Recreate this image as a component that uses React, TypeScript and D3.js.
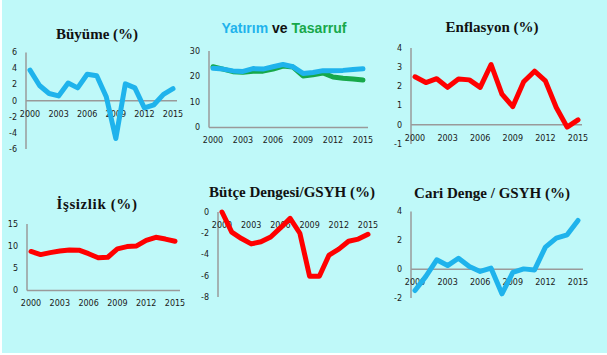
import React from "react";
import * as d3 from "d3";

const years = d3.range(2000, 2016);
const xTickYears = [2000, 2003, 2006, 2009, 2012, 2015];

const growth = [3.8, 1.9, 0.9, 0.6, 2.2, 1.6, 3.3, 3.1, 0.5, -4.7, 2.1, 1.6, -0.9, -0.5, 0.8, 1.5];
const investment = [23.2, 22.9, 22.2, 22.0, 23.1, 22.9, 23.8, 24.7, 23.8, 21.2, 21.6, 22.3, 22.3, 22.4, 22.7, 23.0];
const savings = [23.8, 22.9, 21.9, 21.7, 22.1, 22.1, 22.9, 24.1, 23.7, 20.2, 20.7, 21.4, 19.8, 19.3, 19.0, 18.6];
const inflation = [2.5, 2.2, 2.4, 1.95, 2.38, 2.34, 1.95, 3.14, 1.6, 0.95, 2.24, 2.79, 2.29, 0.9, -0.12, 0.26];
const unemployment = [8.8, 8.1, 8.55, 8.9, 9.15, 9.1, 8.3, 7.4, 7.5, 9.4, 9.9, 10.05, 11.3, 12.0, 11.6, 11.1];
const budget = [0.0, -1.9, -2.5, -3.0, -2.8, -2.35, -1.5, -0.6, -2.0, -6.05, -6.05, -4.05, -3.5, -2.75, -2.55, -2.1];
const current = [-1.48, -0.5, 0.65, 0.25, 0.76, 0.18, -0.16, 0.07, -1.71, -0.23, 0.02, -0.05, 1.53, 2.15, 2.38, 3.38];

const BLUE = "#1fb3ec";
const RED = "#ff0000";
const GREEN = "#17a84a";
const AXIS = "#9a9a9a";
const TICK_FONT = "'DejaVu Sans', Verdana, sans-serif";

type Series = { values: number[]; color: string };
type PanelProps = {
  axisX: number;
  dataX0: number;
  dataX1: number;
  axisXEnd: number;
  yDomain: [number, number];
  yRange: [number, number];
  yTicks: number[];
  baseline: number;
  series: Series[];
  showBaseline?: boolean;
};

function Panel(p: PanelProps) {
  const x = d3.scaleLinear().domain([2000, 2015]).range([p.dataX0, p.dataX1]);
  const y = d3.scaleLinear().domain(p.yDomain).range(p.yRange);
  const line = (vals: number[]) =>
    d3.line<number>().x((_, i) => x(years[i])).y((v) => y(v))(vals) || "";
  const baseY = y(p.baseline);
  return (
    <g>
      <line x1={p.axisX} x2={p.axisX} y1={y(p.yDomain[1])} y2={y(p.yDomain[0])} stroke={AXIS} strokeWidth={1.5} />
      {p.showBaseline !== false && (
        <line x1={p.axisX} x2={p.axisXEnd} y1={baseY} y2={baseY} stroke={AXIS} strokeWidth={1.5} />
      )}
      {p.yTicks.map((t) => (
        <text key={t} x={p.axisX - 9} y={y(t)} dy="0.35em" textAnchor="end" fontSize={8} fontFamily={TICK_FONT} fill="#1a1a1a">
          {t}
        </text>
      ))}
      {xTickYears.map((yr) => (
        <text key={yr} x={x(yr)} y={baseY + 13} dy="0.35em" textAnchor="middle" fontSize={8} fontFamily={TICK_FONT} fill="#1a1a1a">
          {yr}
        </text>
      ))}
      {p.series.map((s, i) => (
        <path key={i} d={line(s.values)} fill="none" stroke={s.color} strokeWidth={5} strokeLinejoin="round" strokeLinecap="round" />
      ))}
    </g>
  );
}

const titleStyle = {
  fontFamily: "'Liberation Serif', 'Times New Roman', serif",
  fontWeight: "bold" as const,
  fontSize: 15,
  fill: "#111",
};

export default function App() {
  return (
    <svg width={607} height={355} style={{ position: "absolute", left: 0, top: 0 }}>
      <rect x={0} y={0} width={607} height={355} fill="#ffffff" />
      <rect x={2} y={0} width={605} height={353} fill="#bff9f9" />

      <text x={97} y={38.5} textAnchor="middle" {...titleStyle}>Büyüme (%)</text>
      <text x={284} y={33} textAnchor="middle" fontFamily="'Liberation Sans', Arial, sans-serif" fontWeight="bold" fontSize={14}>
        <tspan fill={BLUE}>Yatırım</tspan>
        <tspan fill="#111"> ve </tspan>
        <tspan fill={GREEN}>Tasarruf</tspan>
      </text>
      <text x={492} y={32} textAnchor="middle" {...titleStyle}>Enflasyon (%)</text>
      <text x={97} y={209} textAnchor="middle" {...titleStyle} letterSpacing={0.6}>İşsizlik  (%)</text>
      <text x={292} y={197} textAnchor="middle" {...titleStyle}>Bütçe Dengesi/GSYH  (%)</text>
      <text x={492} y={198} textAnchor="middle" {...titleStyle}>Cari Denge  / GSYH (%)</text>

      <Panel axisX={26} dataX0={30} dataX1={173} axisXEnd={177} yDomain={[-6, 6]} yRange={[149, 52.5]}
        yTicks={[-6, -4, -2, 0, 2, 4, 6]} baseline={0} series={[{ values: growth, color: BLUE }]} />
      <Panel axisX={209} dataX0={213} dataX1={363} axisXEnd={368} yDomain={[0, 30]} yRange={[127.5, 51]}
        yTicks={[0, 10, 20, 30]} baseline={0}
        series={[{ values: savings, color: GREEN }, { values: investment, color: BLUE }]} />
      <Panel axisX={411} dataX0={415} dataX1={578} axisXEnd={582} yDomain={[-1, 4]} yRange={[144, 48]}
        yTicks={[-1, 0, 1, 2, 3, 4]} baseline={0} series={[{ values: inflation, color: RED }]} />
      <Panel axisX={27} dataX0={31} dataX1={175} axisXEnd={180} yDomain={[0, 15]} yRange={[290.5, 224]}
        yTicks={[0, 5, 10, 15]} baseline={0} series={[{ values: unemployment, color: RED }]} />
      <Panel axisX={218} dataX0={222} dataX1={368} axisXEnd={372} yDomain={[-8, 0]} yRange={[297, 212]}
        yTicks={[-8, -6, -4, -2, 0]} baseline={0} showBaseline={false} series={[{ values: budget, color: RED }]} />
      <Panel axisX={411} dataX0={415} dataX1={578} axisXEnd={583} yDomain={[-2, 4]} yRange={[298, 211.5]}
        yTicks={[-2, 0, 2, 4]} baseline={0} series={[{ values: current, color: BLUE }]} />
    </svg>
  );
}
